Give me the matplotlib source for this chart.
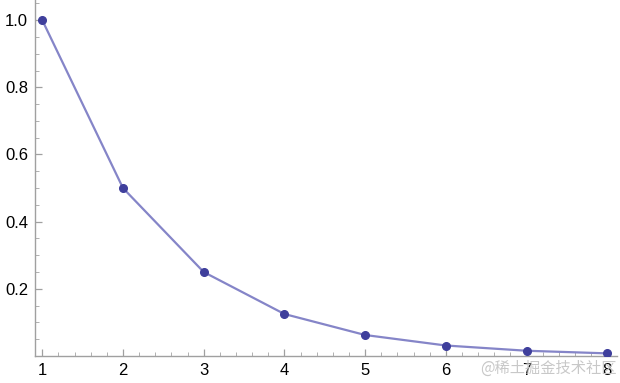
import matplotlib.pyplot as plt
from matplotlib.ticker import MultipleLocator

x = [1, 2, 3, 4, 5, 6, 7, 8]
y = [1.0, 0.5, 0.25, 0.125, 0.0625, 0.03125, 0.015625, 0.0078125]
xticks = [1, 2, 3, 4, 5, 6, 7, 8]
yticks = [0.2, 0.4, 0.6, 0.8, 1.0]

plt.rcParams['font.family'] = ['Liberation Sans', 'DejaVu Sans']

fig = plt.figure(figsize=(6.2, 3.83), dpi=100)
ax = fig.add_axes([35 / 620, 27 / 383, 582 / 620, 356 / 383])

ax.plot(x, y, color='#8585c8', lw=1.6, zorder=2)
ax.plot(x, y, 'o', color='#3f3f9c', ms=5.5, zorder=3)

ax.set_xlim(0.91, 8.12)
ax.set_ylim(0, 1.06)
ax.set_xticks(xticks)
ax.set_yticks(yticks)
ax.set_yticklabels(['%.1f' % v for v in yticks])
ax.xaxis.set_minor_locator(MultipleLocator(0.2))
ax.yaxis.set_minor_locator(MultipleLocator(0.05))

for side in ['top', 'right']:
    ax.spines[side].set_visible(False)
for side in ['left', 'bottom']:
    ax.spines[side].set_color('#a0a0a0')
    ax.spines[side].set_linewidth(1.0)

ax.tick_params(which='major', direction='in', length=5, width=0.9, color='#a0a0a0',
               labelsize=12, labelcolor='black', pad=5)
ax.tick_params(which='minor', direction='in', length=3, width=0.7, color='#b0b0b0')

fig.text(0.995, 0.015, '@稀土掘金技术社区', ha='right', va='bottom', fontsize=11,
         color='#c8c8c8', family=['Noto Sans CJK SC', 'DejaVu Sans'])

fig.savefig('out.png', dpi=100)
